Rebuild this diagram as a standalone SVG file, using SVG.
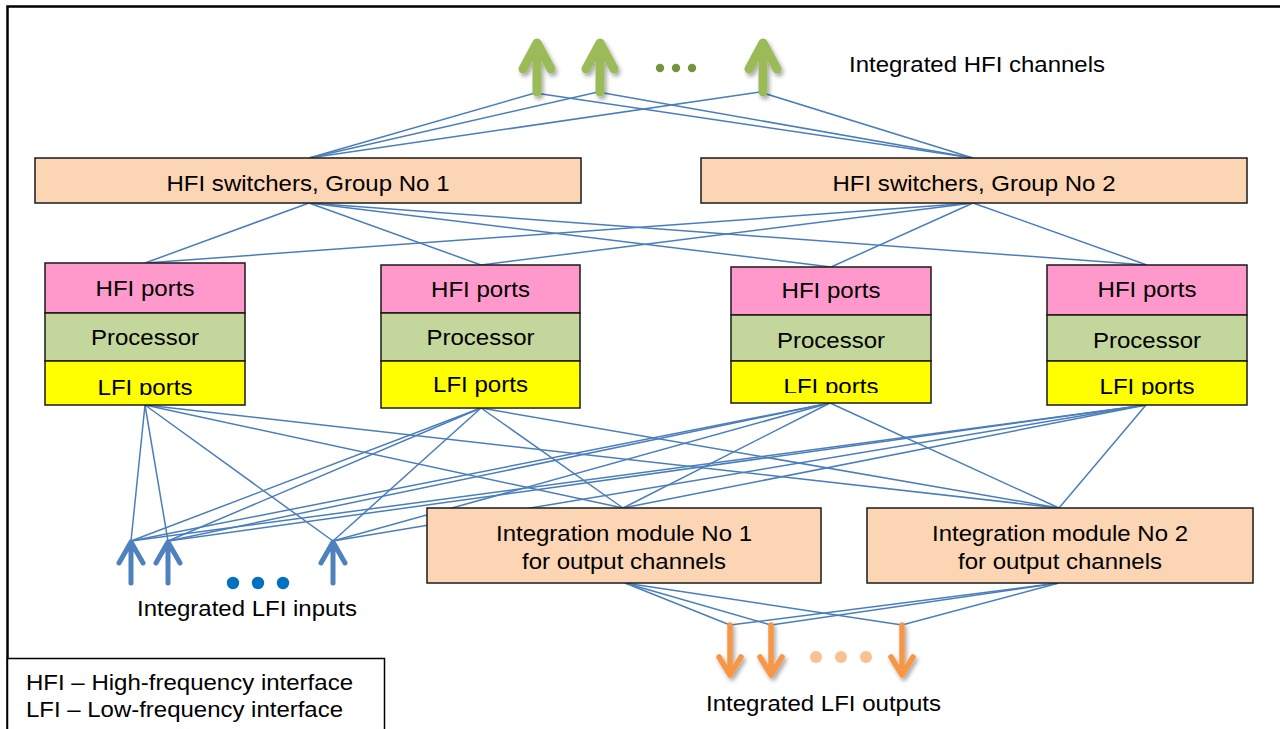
<svg xmlns="http://www.w3.org/2000/svg" width="1280" height="729" viewBox="0 0 1280 729">
<defs>
<style>
text{font-family:"Liberation Sans",Arial,sans-serif;font-size:22px;fill:#000}
.c{text-anchor:middle}
.box{stroke:#1a1a1a;stroke-width:1.5}
.peach{fill:#FCD5B5}
.pink{fill:#FF99CC}
.proc{fill:#C3D69B}
.yel{fill:#FFFF00}
.conn line{stroke:#4A7EBB;stroke-width:1.5}
.garr{fill:none;stroke:#9BBB59;stroke-width:9;stroke-linecap:round;stroke-linejoin:round}
.barr{fill:none;stroke:#4F81BD;stroke-width:5;stroke-linecap:round;stroke-linejoin:round}
.oarr{fill:none;stroke:#F79646;stroke-width:5.5;stroke-linecap:round;stroke-linejoin:round}
</style>
<filter id="sh" x="-50%" y="-50%" width="200%" height="200%">
<feDropShadow dx="2" dy="3" stdDeviation="2" flood-color="#000" flood-opacity="0.35"/>
</filter>
<clipPath id="clipN1"><rect x="45" y="361" width="200" height="34"/></clipPath>
<clipPath id="clipN3"><rect x="731" y="361" width="200" height="32"/></clipPath>
<clipPath id="clipN4"><rect x="1047" y="361" width="200" height="34"/></clipPath>
</defs>
<rect x="0" y="0" width="1280" height="729" fill="#fff"/>
<path d="M7.5,729 V6.5 H1280" fill="none" stroke="#000" stroke-width="2.5"/>

<g id="connectors" class="conn">
<line x1="309" y1="158" x2="535" y2="93"/>
<line x1="309" y1="158" x2="598" y2="92"/>
<line x1="309" y1="158" x2="760" y2="92"/>
<line x1="973" y1="158" x2="535" y2="93"/>
<line x1="973" y1="158" x2="598" y2="92"/>
<line x1="973" y1="158" x2="760" y2="92"/>

<line x1="309" y1="203" x2="145" y2="263"/>
<line x1="309" y1="203" x2="481" y2="265"/>
<line x1="309" y1="203" x2="831" y2="267"/>
<line x1="309" y1="203" x2="1147" y2="265"/>
<line x1="973" y1="203" x2="145" y2="263"/>
<line x1="973" y1="203" x2="481" y2="265"/>
<line x1="973" y1="203" x2="831" y2="267"/>
<line x1="973" y1="203" x2="1147" y2="265"/>

<line x1="145" y1="405" x2="131" y2="541"/>
<line x1="145" y1="405" x2="168" y2="541"/>
<line x1="145" y1="405" x2="333" y2="541"/>
<line x1="145" y1="405" x2="623" y2="508"/>
<line x1="145" y1="405" x2="1059" y2="508"/>
<line x1="481" y1="408" x2="131" y2="541"/>
<line x1="481" y1="408" x2="168" y2="541"/>
<line x1="481" y1="408" x2="333" y2="541"/>
<line x1="481" y1="408" x2="623" y2="508"/>
<line x1="481" y1="408" x2="1059" y2="508"/>
<line x1="830" y1="403" x2="131" y2="541"/>
<line x1="830" y1="403" x2="168" y2="541"/>
<line x1="830" y1="403" x2="333" y2="541"/>
<line x1="830" y1="403" x2="623" y2="508"/>
<line x1="830" y1="403" x2="1059" y2="508"/>
<line x1="1146" y1="405" x2="131" y2="541"/>
<line x1="1146" y1="405" x2="168" y2="541"/>
<line x1="1146" y1="405" x2="333" y2="541"/>
<line x1="1146" y1="405" x2="623" y2="508"/>
<line x1="1146" y1="405" x2="1059" y2="508"/>

<line x1="625" y1="583" x2="730" y2="625"/>
<line x1="625" y1="583" x2="771" y2="625"/>
<line x1="625" y1="583" x2="902" y2="625"/>
<line x1="1059" y1="583" x2="730" y2="625"/>
<line x1="1059" y1="583" x2="771" y2="625"/>
<line x1="1059" y1="583" x2="902" y2="625"/>
</g>

<g id="hfi-outputs">
<g filter="url(#sh)">
<path class="garr" d="M537,92 V45 M523,69 L537,43 L551,69"/>
<path class="garr" d="M600,92 V45 M586,69 L600,43 L614,69"/>
<path class="garr" d="M763,92 V45 M749,69 L763,43 L777,69"/>
</g>
<circle cx="660" cy="68" r="4.2" fill="#77933C"/>
<circle cx="676" cy="68" r="4.2" fill="#77933C"/>
<circle cx="692" cy="68" r="4.2" fill="#77933C"/>
<text x="849" y="72" textLength="256" lengthAdjust="spacingAndGlyphs">Integrated HFI channels</text>
</g>

<g id="group1">
<rect class="box peach" x="35" y="158" width="546" height="45"/>
<text class="c" x="308" y="190.5" textLength="283" lengthAdjust="spacingAndGlyphs">HFI switchers, Group No 1</text>
</g>
<g id="group2">
<rect class="box peach" x="701" y="158" width="546" height="45"/>
<text class="c" x="974" y="190.5" textLength="283" lengthAdjust="spacingAndGlyphs">HFI switchers, Group No 2</text>
</g>

<g id="node1">
<rect class="box pink" x="45" y="263" width="200" height="50"/>
<rect class="box proc" x="45" y="313" width="200" height="48"/>
<rect class="box yel" x="45" y="361" width="200" height="44"/>
<text class="c" x="145" y="295.5" textLength="99" lengthAdjust="spacingAndGlyphs">HFI ports</text>
<text class="c" x="145" y="345" textLength="108" lengthAdjust="spacingAndGlyphs">Processor</text>
<text class="c" x="145" y="394.5" textLength="95" lengthAdjust="spacingAndGlyphs" clip-path="url(#clipN1)">LFI ports</text>
</g>
<g id="node2">
<rect class="box pink" x="381" y="265" width="199" height="48"/>
<rect class="box proc" x="381" y="313" width="199" height="48"/>
<rect class="box yel" x="381" y="361" width="199" height="47"/>
<text class="c" x="480.5" y="296.5" textLength="99" lengthAdjust="spacingAndGlyphs">HFI ports</text>
<text class="c" x="480.5" y="345" textLength="108" lengthAdjust="spacingAndGlyphs">Processor</text>
<text class="c" x="480.5" y="392" textLength="95" lengthAdjust="spacingAndGlyphs">LFI ports</text>
</g>
<g id="node3">
<rect class="box pink" x="731" y="267" width="200" height="48"/>
<rect class="box proc" x="731" y="315" width="200" height="46"/>
<rect class="box yel" x="731" y="361" width="200" height="42"/>
<text class="c" x="831" y="298" textLength="99" lengthAdjust="spacingAndGlyphs">HFI ports</text>
<text class="c" x="831" y="348" textLength="108" lengthAdjust="spacingAndGlyphs">Processor</text>
<text class="c" x="831" y="394" textLength="95" lengthAdjust="spacingAndGlyphs" clip-path="url(#clipN3)">LFI ports</text>
</g>
<g id="node4">
<rect class="box pink" x="1047" y="265" width="200" height="50"/>
<rect class="box proc" x="1047" y="315" width="200" height="46"/>
<rect class="box yel" x="1047" y="361" width="200" height="44"/>
<text class="c" x="1147" y="297" textLength="99" lengthAdjust="spacingAndGlyphs">HFI ports</text>
<text class="c" x="1147" y="348" textLength="108" lengthAdjust="spacingAndGlyphs">Processor</text>
<text class="c" x="1147" y="394" textLength="95" lengthAdjust="spacingAndGlyphs" clip-path="url(#clipN4)">LFI ports</text>
</g>

<g id="module1">
<rect class="box peach" x="427" y="508" width="394" height="75"/>
<text class="c" x="624" y="541" textLength="256" lengthAdjust="spacingAndGlyphs">Integration module No 1</text>
<text class="c" x="624" y="569" textLength="204" lengthAdjust="spacingAndGlyphs">for output channels</text>
</g>
<g id="module2">
<rect class="box peach" x="867" y="508" width="386" height="75"/>
<text class="c" x="1060" y="541" textLength="256" lengthAdjust="spacingAndGlyphs">Integration module No 2</text>
<text class="c" x="1060" y="569" textLength="204" lengthAdjust="spacingAndGlyphs">for output channels</text>
</g>

<g id="lfi-inputs">
<path class="barr" d="M131,583 V543 M119,563 L131,542 L143,563"/>
<path class="barr" d="M168,583 V543 M156,563 L168,542 L180,563"/>
<path class="barr" d="M333,583 V543 M321,563 L333,542 L345,563"/>
<circle cx="233" cy="583" r="6.2" fill="#0070C0"/>
<circle cx="258" cy="583" r="6.2" fill="#0070C0"/>
<circle cx="283" cy="583" r="6.2" fill="#0070C0"/>
<text x="137" y="616" textLength="220" lengthAdjust="spacingAndGlyphs">Integrated LFI inputs</text>
</g>

<g id="lfi-outputs">
<g filter="url(#sh)">
<path class="oarr" d="M730,625 V673 M719,657 L730,675 L741,657"/>
<path class="oarr" d="M771,625 V673 M760,657 L771,675 L782,657"/>
<path class="oarr" d="M902,625 V673 M891,657 L902,675 L913,657"/>
</g>
<circle cx="816" cy="657" r="6" fill="#FAC090"/>
<circle cx="841" cy="657" r="6" fill="#FAC090"/>
<circle cx="866" cy="657" r="6" fill="#FAC090"/>
<text class="c" x="823.5" y="710.5" textLength="235" lengthAdjust="spacingAndGlyphs">Integrated LFI outputs</text>
</g>

<g id="legend">
<rect x="7.5" y="658.5" width="377" height="80" fill="#fff" stroke="#000" stroke-width="1.5"/>
<text x="26" y="690" font-size="21" textLength="327" lengthAdjust="spacingAndGlyphs">HFI – High-frequency interface</text>
<text x="26" y="717" font-size="21" textLength="317" lengthAdjust="spacingAndGlyphs">LFI – Low-frequency interface</text>
</g>
</svg>
